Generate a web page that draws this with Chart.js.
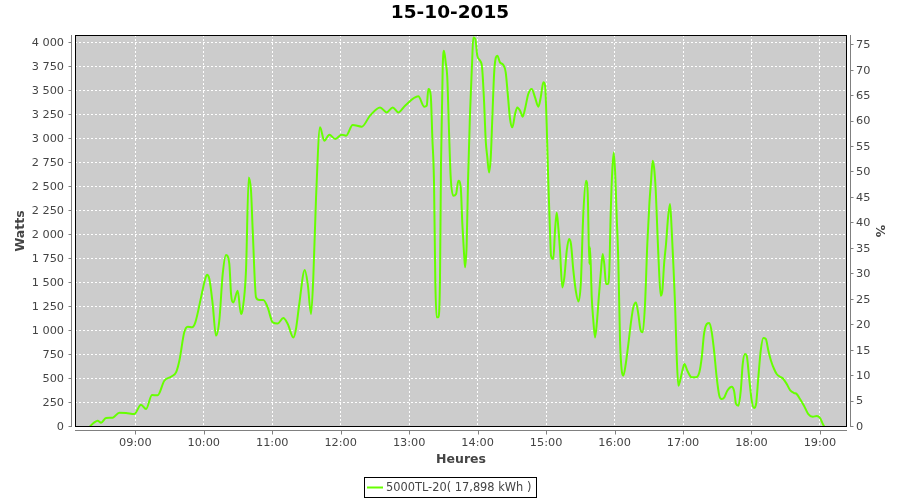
<!DOCTYPE html>
<html>
<head>
<meta charset="utf-8">
<script src="https://cdn.jsdelivr.net/npm/chart.js@4.4.1/dist/chart.umd.min.js"></script>
<style>
  html, body { margin: 0; padding: 0; background: #ffffff; }
  #wrap { width: 900px; height: 500px; }
</style>
</head>
<body>
<div id="wrap"><canvas id="c" width="900" height="500"></canvas></div>
<script>
// ---- Data ----
const chartTitle = '15-10-2015';
const seriesLabel = '5000TL-20( 17,898 kWh )';

// Time of day in minutes after midnight
const timeMinutes = [
  499.7,504.1,507,510,514.3,520.2,526,531.9,539.1,545,
  549.4,554.6,559.6,565.4,571.3,575.7,578.6,582.9,585.9,589.7,
  592.6,597.6,600.5,602.8,604.9,607.8,610.7,613.6,616.6,619.5,
  622.4,623.9,625.9,629.7,632.6,634.1,637,639.4,641.4,642.9,
  645.8,648.7,652.2,656,660.4,664.8,669.7,673.6,678.5,680.8,
  683.7,688.5,691.1,694,696,698.4,701.9,705.6,710,715.3,
  720.9,724.7,730.5,738.4,745.7,754.5,760.3,765.6,770.5,776.4,
  788,793.3,795.4,796.8,798.9,800.3,801.8,802.9,804.1,805.5,
  807,807.9,809.4,810.5,812,813.4,814.9,816.4,818.7,821.1,
  823.1,825.2,826.6,828.1,829,830.4,831.6,833.3,835.1,836.2,
  838,839.7,842.1,843.9,845.6,847.1,848.5,850,851.5,852.9,
  854.6,857.3,859.6,862.5,864.6,866.4,868.4,870.4,872.8,874.8,
  877.2,879.5,881.5,884.4,887.4,890.3,893.2,895.3,897.6,899.1,
  900.5,901.9,903.4,904.3,906.3,907.8,909.3,910.7,912.2,914.2,
  916,918.1,920.1,921.8,923.9,926,928.3,930.4,932.6,935,
  936.5,937.9,
  938.5,940,941.4,942.9,944.4,946.4,948.1,949.6,951,952.5,
  954,955.4,956.6,958,959.3,960.7,961.9,963.3,964.8,966.3,
  967.7,969.8,972.1,974.2,976.4,978.8,980.8,982.9,984.7,986.7,
  988.7,990.5,992,993.4,994.6,996.1,997.5,999,1000.5,1001.9,
  1003.4,1005.1,1006.9,1008.6,1010.1,1011.5,1013,1014.5,1015.9,1017.4,
  1019.4,1021.2,1023.8,1027.6,1031.4,1034.3,1036.4,1038.4,1040.8,1043.1,
  1045.2,1047.2,1049.5,1051.8,1053.9,1056.2,1058.8,1062.7,1064.7,1066.5,
  1068.5,1070.6,1072.3,1074.3,1075.8,1077.9,1080.2,1082.2,1084,1086,
  1088.1,1090.4,1092.5,1094.8,1097.1,1099.8,1102.1,1105,1107.9,1110.9,
  1113.8,1117.3,1119.6,1122.5,1126,1129.8,1133.7,1137.2,1140.1,1142.5,
  1144.4,1148.8
];

// Power in watts
const powerWatts = [
  0,48,66,45,94,97,149,146,135,232,
  187,333,330,482,524,569,690,986,1045,1038,
  1090,1350,1506,1586,1541,1281,951,1107,1594,1792,
  1698,1385,1298,1420,1177,1229,1628,2600,2461,2045,
  1350,1323,1323,1246,1090,1079,1135,1073,933,1021,
  1281,1635,1490,1177,1558,2392,3121,2982,3045,3000,
  3045,3034,3146,3128,3243,3329,3277,3329,3277,3347,
  3444,3336,3347,3521,3451,3017,2531,1524,1142,1142,
  1524,2740,3746,3920,3798,3642,3086,2600,2409,2427,
  2566,2496,2115,1802,1663,1906,2566,3260,3781,4058,
  4041,3868,3816,3746,3399,2982,2808,2652,2808,3225,
  3712,3868,3798,3771,3694,3469,3208,3121,3260,3329,
  3295,3232,3312,3469,3521,3433,3336,3433,3590,3555,
  3156,2566,2045,1784,1750,2045,2235,2079,1836,1454,
  1558,1836,1958,1906,1628,1420,1308,1490,2219,2566,
  2427,1698,
  1871,1350,1107,933,1073,1385,1628,1802,1698,1490,
  1490,1628,2219,2670,2860,2600,2183,1732,899,586,
  534,656,865,1073,1246,1298,1177,1003,986,1281,
  1906,2323,2566,2774,2704,2461,2045,1628,1368,1420,
  1698,1906,2183,2323,2045,1698,1281,725,430,482,
  586,656,586,517,517,569,725,969,1073,1083,
  986,795,517,326,292,309,378,420,378,240,
  222,378,656,760,743,517,274,198,240,517,
  795,927,917,795,690,604,552,524,500,448,
  385,354,344,292,222,135,107,115,94,31,
  0,0
];

// Tick labels
const hourTickLabels = ['09:00','10:00','11:00','12:00','13:00','14:00','15:00','16:00','17:00','18:00','19:00'];
const wattTicks = [0,250,500,750,1000,1250,1500,1750,2000,2250,2500,2750,3000,3250,3500,3750,4000];
const percentTicks = [0,5,10,15,20,25,30,35,40,45,50,55,60,65,70,75];

// Axis ranges
const xRange = [487.15, 1163.7];
const wattRange = [0, 4083];
const percentRange = [0, 77];

// ---- Helpers ----
const toMinutes = s => { const p = s.split(':'); return (+p[0]) * 60 + (+p[1]); };
const hourTickValues = hourTickLabels.map(toMinutes);
const fmtMinutes = v => {
  const h = Math.floor(v / 60), m = Math.round(v - h * 60);
  return String(h).padStart(2, '0') + ':' + String(m).padStart(2, '0');
};
const fmtThousands = v => String(v).replace(/\B(?=(\d{3})+(?!\d))/g, ' ');

const FONT = 'DejaVu Sans';
Chart.defaults.font.family = FONT;

const LINE_COLOR = '#66ff00';
const AXIS_GRAY = '#808080';
const LABEL_COLOR = '#444444';

const jfreePlugin = {
  id: 'jfree',
  beforeDraw(chart) {
    const ctx = chart.ctx, a = chart.chartArea;
    ctx.save();
    ctx.fillStyle = '#ffffff';
    ctx.fillRect(0, 0, chart.width, chart.height);
    ctx.fillStyle = '#cccccc';
    ctx.fillRect(a.left, a.top, a.right - a.left, a.bottom - a.top);
    ctx.restore();
  },
  afterDraw(chart) {
    const ctx = chart.ctx, a = chart.chartArea;
    const sx = chart.scales.x, sy = chart.scales.y, sy1 = chart.scales.y1;
    ctx.save();
    // plot outline
    ctx.strokeStyle = '#000000';
    ctx.lineWidth = 1;
    ctx.setLineDash([]);
    ctx.strokeRect(a.left + 0.5, a.top + 0.5, a.right - a.left - 1, a.bottom - a.top - 1);

    // axis lines (offset from the plot) and tick marks
    ctx.strokeStyle = AXIS_GRAY;
    ctx.beginPath();
    const lx = a.left - 3.5;
    ctx.moveTo(lx, a.top); ctx.lineTo(lx, a.bottom);
    wattTicks.forEach(v => {
      const y = Math.round(sy.getPixelForValue(v)) - 0.5;
      ctx.moveTo(lx - 3, y); ctx.lineTo(lx, y);
    });
    const rx = a.right + 3.5;
    ctx.moveTo(rx, a.top); ctx.lineTo(rx, a.bottom);
    percentTicks.forEach(v => {
      const y = Math.round(sy1.getPixelForValue(v)) - 0.5;
      ctx.moveTo(rx, y); ctx.lineTo(rx + 3, y);
    });
    const by = a.bottom + 3.5;
    ctx.moveTo(a.left, by); ctx.lineTo(a.right, by);
    hourTickValues.forEach(v => {
      const x = Math.round(sx.getPixelForValue(v)) + 0.5;
      ctx.moveTo(x, by); ctx.lineTo(x, by + 4);
    });
    ctx.stroke();

    // legend box
    const ds = chart.data.datasets[0];
    ctx.font = '11.4px "' + FONT + '"';
    const tw = ctx.measureText(ds.label).width;
    const boxW = Math.round(3 + 16 + 3 + tw + 5);
    const boxH = 20;
    const bx = Math.round((chart.width - boxW) / 2) + 0.5;
    const byy = 477.5;
    ctx.strokeStyle = '#000000';
    ctx.lineWidth = 1;
    ctx.strokeRect(bx, byy, boxW, boxH);
    ctx.strokeStyle = ds.borderColor;
    ctx.lineWidth = 2;
    ctx.beginPath();
    ctx.moveTo(bx + 2.5, byy + 10);
    ctx.lineTo(bx + 18.5, byy + 10);
    ctx.stroke();
    ctx.fillStyle = LABEL_COLOR;
    ctx.textBaseline = 'middle';
    ctx.textAlign = 'left';
    ctx.fillText(ds.label, bx + 21.5, byy + 10.5);
    ctx.restore();
  }
};

const gridCommon = {
  color: '#ffffff',
  lineWidth: 1,
  drawTicks: false
};
const borderCommon = { display: false, dash: [2, 2] };

new Chart(document.getElementById('c'), {
  type: 'line',
  data: {
    datasets: [{
      label: seriesLabel,
      data: timeMinutes.map((m, i) => ({ x: m, y: powerWatts[i] })),
      borderColor: LINE_COLOR,
      backgroundColor: LINE_COLOR,
      borderWidth: 2,
      pointRadius: 0,
      fill: false,
      cubicInterpolationMode: 'monotone',
      yAxisID: 'y'
    }]
  },
  options: {
    responsive: false,
    animation: false,
    devicePixelRatio: 1,
    events: [],
    layout: { padding: { top: 0, left: 0, right: 0, bottom: 30 } },
    plugins: {
      legend: { display: false },
      tooltip: { enabled: false },
      title: {
        display: true,
        text: chartTitle,
        color: '#000000',
        font: { size: 18.5, weight: 'bold', family: FONT },
        padding: { top: 2.5, bottom: 10.3 }
      }
    },
    scales: {
      x: {
        type: 'linear',
        position: 'bottom',
        min: xRange[0],
        max: xRange[1],
        afterBuildTicks: s => { s.ticks = hourTickValues.map(v => ({ value: v })); },
        afterFit: s => { s.height = 43; },
        grid: gridCommon,
        border: borderCommon,
        ticks: {
          autoSkip: false, maxRotation: 0, padding: 9.5,
          color: LABEL_COLOR, font: { size: 11.3 },
          callback: v => fmtMinutes(v)
        },
        title: {
          display: true, text: 'Heures', color: LABEL_COLOR,
          font: { size: 12.5, weight: 'bold' },
          padding: { top: 0, bottom: 2.5 }
        }
      },
      y: {
        type: 'linear',
        position: 'left',
        min: wattRange[0],
        max: wattRange[1],
        afterBuildTicks: s => { s.ticks = wattTicks.map(v => ({ value: v })); },
        afterFit: s => { s.width = 75; },
        grid: gridCommon,
        border: borderCommon,
        ticks: {
          autoSkip: false, padding: 11,
          color: LABEL_COLOR, font: { size: 11.3 },
          callback: v => fmtThousands(v)
        },
        title: {
          display: true, text: 'Watts', color: LABEL_COLOR,
          font: { size: 12.5, weight: 'bold' },
          padding: { top: 13.5, bottom: 0 }
        }
      },
      y1: {
        type: 'linear',
        position: 'right',
        min: percentRange[0],
        max: percentRange[1],
        afterBuildTicks: s => { s.ticks = percentTicks.map(v => ({ value: v })); },
        afterFit: s => { s.width = 53; },
        grid: { display: false, drawTicks: false },
        border: { display: false },
        ticks: {
          autoSkip: false, padding: 9,
          color: LABEL_COLOR, font: { size: 11.3 },
          callback: v => String(v)
        },
        title: {
          display: true, text: '%', color: LABEL_COLOR,
          font: { size: 12.5, weight: 'bold' },
          padding: { top: 13.2, bottom: 0 }
        }
      }
    }
  },
  plugins: [jfreePlugin]
});
</script>
</body>
</html>
